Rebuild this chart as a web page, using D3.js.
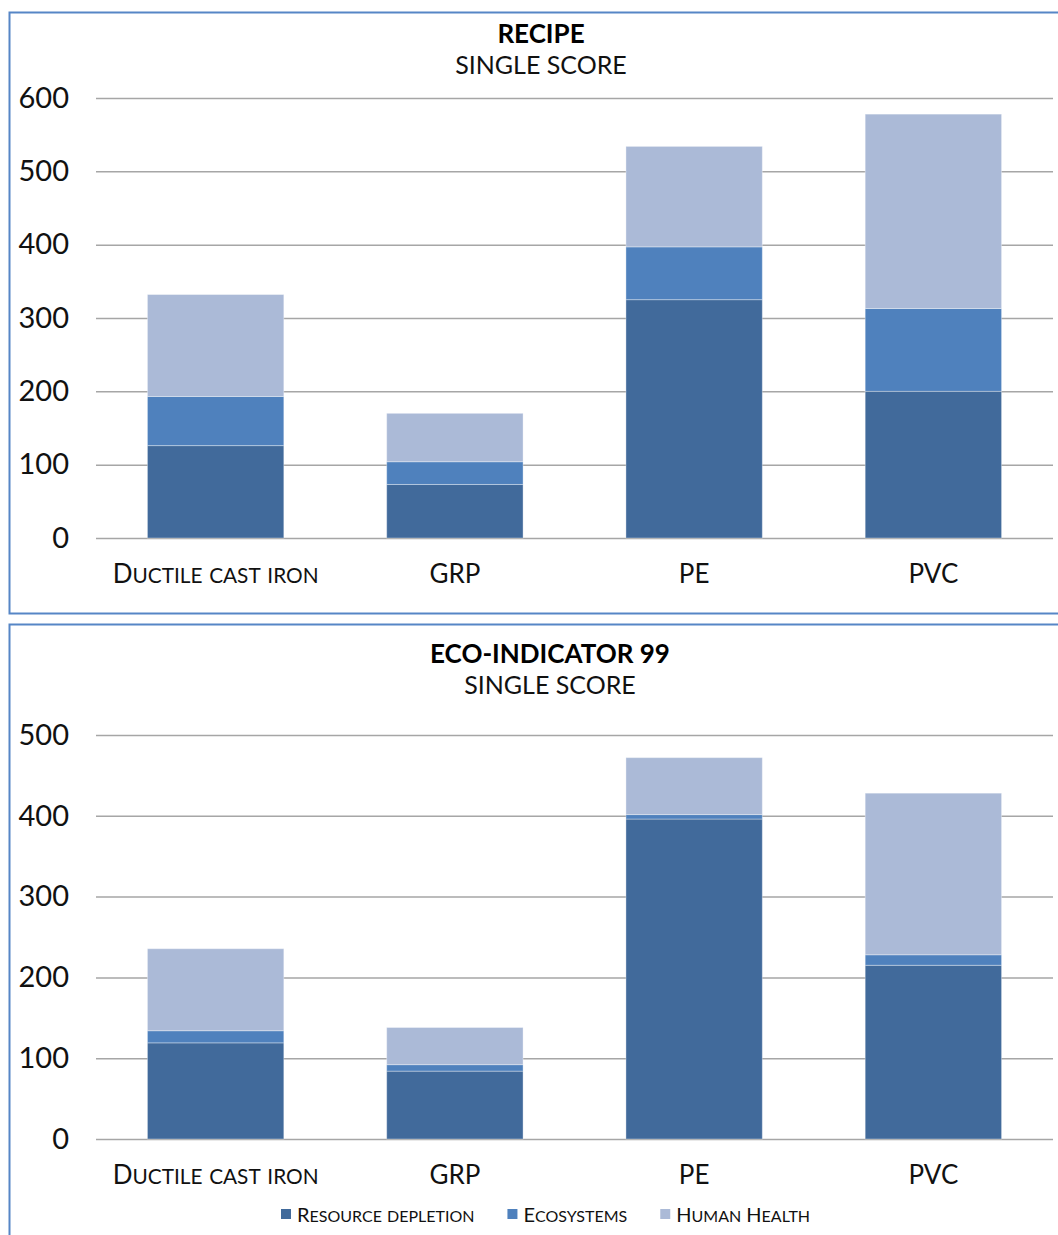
<!DOCTYPE html>
<html>
<head>
<meta charset="utf-8">
<script src="https://cdn.jsdelivr.net/npm/d3@7"></script>
<style>
  html, body { margin: 0; padding: 0; background: #ffffff; }
  svg { display: block; font-family: "Lato", "Open Sans", sans-serif; }
</style>
</head>
<body>
<svg id="chart" width="1058" height="1235"></svg>
<script>
// Pipe materials compared in both assessments
const categories = ["Ductile cast iron", "GRP", "PE", "PVC"];
const seriesKeys = ["Resource depletion", "Ecosystems", "Human Health"];
const seriesColors = ["#416a9b", "#4f81bd", "#abbad7"];

// ReCiPe single score, by damage category
const recipeResource = [126, 73, 325, 200];
const recipeEcosystems = [67, 31, 72, 113];
const recipeHuman = [139, 66, 137, 265];
const recipeTicks = [0, 100, 200, 300, 400, 500, 600];

// Eco-indicator 99 single score, by damage category
const ecoResource = [119, 84, 396, 215];
const ecoEcosystems = [15, 8, 5.5, 13];
const ecoHuman = [101.5, 46, 70.5, 200];
const ecoTicks = [0, 100, 200, 300, 400, 500];

const svg = d3.select("#chart");

function rows(resource, eco, human) {
  return categories.map((c, i) => ({
    category: c,
    "Resource depletion": resource[i],
    "Ecosystems": eco[i],
    "Human Health": human[i]
  }));
}

const color = d3.scaleOrdinal().domain(seriesKeys).range(seriesColors);

// Writes a string as small capitals: capitals at full size, lower-case
// letters as reduced capitals.
function smallCaps(textSel, str, size, ratio) {
  textSel.text(null);
  const runs = [];
  for (const ch of str) {
    const lower = ch !== ch.toUpperCase();
    const last = runs[runs.length - 1];
    if (last && last.lower === lower) last.s += ch;
    else runs.push({ lower, s: ch });
  }
  runs.forEach(r => {
    textSel.append("tspan")
      .attr("font-size", r.lower ? size * ratio : size)
      .text(r.s.toUpperCase());
  });
}

function panel(cfg) {
  const g = svg.append("g");

  // frame
  g.append("rect")
    .attr("x", cfg.frame.x).attr("y", cfg.frame.y)
    .attr("width", cfg.frame.w).attr("height", cfg.frame.h)
    .attr("fill", "#ffffff")
    .attr("stroke", "#5686c6").attr("stroke-width", 2);

  // titles
  g.append("text")
    .attr("x", cfg.titleX).attr("y", cfg.titleY)
    .attr("text-anchor", "middle")
    .attr("font-size", 26).attr("font-weight", 700)
    .attr("fill", "#000")
    .text(cfg.title);
  g.append("text")
    .attr("x", cfg.titleX).attr("y", cfg.titleY + 31)
    .attr("text-anchor", "middle")
    .attr("font-size", 25)
    .attr("fill", "#111")
    .text("SINGLE SCORE");

  const x = d3.scaleBand()
    .domain(categories)
    .range([96, 1053])
    .paddingInner(0.43)
    .paddingOuter(0.215);

  const y = d3.scaleLinear()
    .domain([0, d3.max(cfg.ticks)])
    .range([cfg.y0, cfg.yTop]);

  // gridlines + value labels
  const yAxis = g.append("g")
    .attr("transform", "translate(96,0)")
    .call(d3.axisLeft(y).tickValues(cfg.ticks).tickFormat(d3.format("d"))
      .tickSize(-(1053 - 96)).tickPadding(27));
  yAxis.select(".domain").remove();
  yAxis.selectAll(".tick line").attr("stroke", "#a6a6a6").attr("stroke-width", 1.5);
  yAxis.selectAll(".tick text")
    .attr("font-size", 29).attr("fill", "#111")
    .attr("font-family", "Lato, 'Open Sans', sans-serif");

  // stacked bars
  const stacked = d3.stack().keys(seriesKeys)(cfg.data);
  g.append("g")
    .selectAll("g")
    .data(stacked)
    .join("g")
    .attr("fill", d => color(d.key))
    .selectAll("rect")
    .data(d => d)
    .join("rect")
    .attr("x", d => x(d.data.category))
    .attr("y", d => y(d[1]))
    .attr("width", x.bandwidth())
    .attr("height", d => y(d[0]) - y(d[1]))
    .attr("stroke", "#ffffff").attr("stroke-opacity", 0.35).attr("stroke-width", 1);

  // category labels
  const xAxis = g.append("g")
    .attr("transform", `translate(0,${cfg.y0})`)
    .call(d3.axisBottom(x).tickSize(0).tickPadding(45));
  xAxis.select(".domain").remove();
  xAxis.selectAll(".tick text")
    .attr("dy", 0)
    .attr("fill", "#111")
    .attr("font-family", "Lato, 'Open Sans', sans-serif")
    .each(function (d) { smallCaps(d3.select(this), d, 26, 0.8); });

  return g;
}

panel({
  frame: { x: 9.5, y: 12.5, w: 1064, h: 601 },
  title: "RECIPE",
  titleX: 541, titleY: 43,
  data: rows(recipeResource, recipeEcosystems, recipeHuman),
  ticks: recipeTicks,
  y0: 538, yTop: 98
});

panel({
  frame: { x: 9.5, y: 624.5, w: 1082, h: 700 },
  title: "ECO-INDICATOR 99",
  titleX: 550, titleY: 663,
  data: rows(ecoResource, ecoEcosystems, ecoHuman),
  ticks: ecoTicks,
  y0: 1139, yTop: 735
});

// legend
const legend = svg.append("g").attr("transform", "translate(281,1209)");
let lx = 0;
seriesKeys.forEach(k => {
  const item = legend.append("g").attr("transform", `translate(${lx},0)`);
  item.append("rect").attr("width", 10).attr("height", 10).attr("fill", color(k));
  const t = item.append("text")
    .attr("x", 16).attr("y", 13)
    .attr("fill", "#111");
  smallCaps(t, k, 20, 0.8);
  lx += 16 + t.node().getComputedTextLength() + 33;
});
</script>
</body>
</html>
